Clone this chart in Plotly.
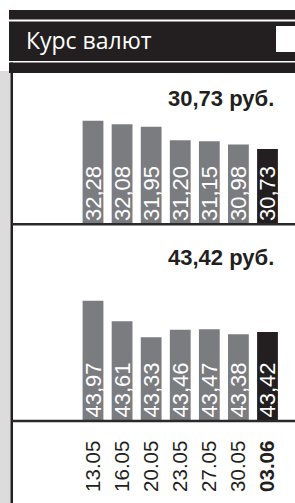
import plotly.graph_objects as go

# ---- data ----
dates = ["13.05", "16.05", "20.05", "23.05", "27.05", "30.05", "03.06"]
usd = [32.28, 32.08, 31.95, 31.20, 31.15, 30.98, 30.73]
eur = [43.97, 43.61, 43.33, 43.46, 43.47, 43.38, 43.42]
title_text = "Курс валют"
unit_text = "руб."

# truncated value axes (as in the printed chart)
usd_floor, usd_top = 26.62, 34.67
eur_floor, eur_top = 41.87, 45.28

W, H = 295, 503
DARK = "#231f20"
GRAY = "#7b7c80"
SANS = "Liberation Sans, Arial, sans-serif"


def fmt(v):
    return f"{v:.2f}".replace(".", ",")


def px(x):
    return x / W


def py(y):
    return 1 - y / H


colors = [GRAY] * (len(dates) - 1) + [DARK]
ticktext = dates[:-1] + [f"<b>{dates[-1]}</b>"]

fig = go.Figure()
for vals, floor, xa, ya in [(usd, usd_floor, "x", "y"), (eur, eur_floor, "x2", "y2")]:
    fig.add_trace(go.Bar(
        x=dates,
        y=[v - floor for v in vals],
        base=floor,
        text=[fmt(v) for v in vals],
        hovertext=[fmt(v) for v in vals],
        textposition="inside",
        insidetextanchor="start",
        textangle=-90,
        constraintext="none",
        cliponaxis=False,
        textfont=dict(family=SANS, size=22, color="white"),
        marker=dict(color=colors, line=dict(width=0)),
        xaxis=xa, yaxis=ya,
        showlegend=False,
    ))

xdom = [px(78.46), px(282.04)]
fig.update_layout(
    width=W, height=H,
    margin=dict(l=0, r=0, t=0, b=0),
    paper_bgcolor="white", plot_bgcolor="rgba(0,0,0,0)",
    bargap=0.285,
    xaxis=dict(domain=xdom, anchor="y", type="category", showticklabels=False,
               showgrid=False, zeroline=False, showline=False, ticks=""),
    yaxis=dict(domain=[py(224), py(77)], range=[usd_floor, usd_top], visible=False),
    xaxis2=dict(domain=xdom, anchor="y2", type="category", tickmode="array",
                tickvals=dates, ticktext=ticktext, tickangle=-90,
                tickfont=dict(family=SANS, size=20.5, color=DARK),
                ticklabelstandoff=15,
                showgrid=False, zeroline=False, showline=False, ticks=""),
    yaxis2=dict(domain=[py(420.5), py(226)], range=[eur_floor, eur_top], visible=False),
)

shapes = []


def rect(x0, y0, x1, y1, color, layer="above"):
    shapes.append(dict(type="rect", xref="paper", yref="paper",
                       x0=px(x0), x1=px(x1), y0=py(y1), y1=py(y0),
                       fillcolor=color, line=dict(width=0), layer=layer))


# header
rect(9, 10, 295, 19.5, DARK)
rect(9, 21.5, 295, 61, DARK)
rect(9, 62.5, 295, 73, DARK)
rect(276, 26, 295, 52, "white")
# left column and frame
rect(0, 71, 10.5, 503, "#dcdcdc", "below")
rect(10.5, 62.5, 13, 503, DARK)
# separators
rect(12, 223, 295, 225.5, "#2a2a2a")
rect(12, 419.8, 295, 422.3, "#2a2a2a")
fig.update_layout(shapes=shapes)

fig.add_annotation(xref="paper", yref="paper", x=px(24), y=py(40),
                   xanchor="left", yanchor="middle", showarrow=False,
                   text=title_text, font=dict(family="Open Sans", size=23, color="white"))
fig.add_annotation(xref="paper", yref="paper", x=px(276), y=py(98),
                   xanchor="right", yanchor="middle", showarrow=False,
                   text=f"<b>{fmt(usd[-1])} {unit_text}</b>",
                   font=dict(family=SANS, size=22, color=DARK))
fig.add_annotation(xref="paper", yref="paper", x=px(276), y=py(257),
                   xanchor="right", yanchor="middle", showarrow=False,
                   text=f"<b>{fmt(eur[-1])} {unit_text}</b>",
                   font=dict(family=SANS, size=22, color=DARK))

fig.write_html("out.html", config={"displayModeBar": False},
               post_script="document.body.style.margin='0';")
